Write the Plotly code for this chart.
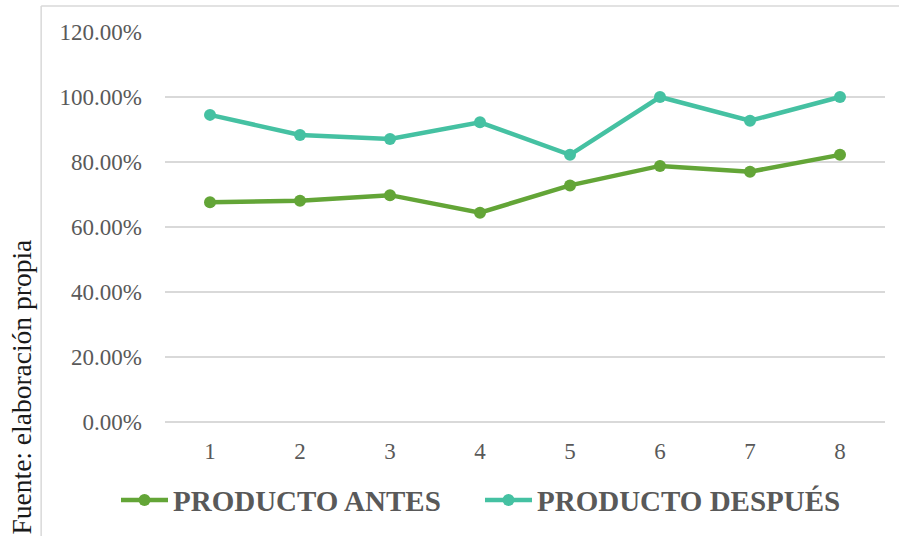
import plotly.graph_objects as go

categories = [1, 2, 3, 4, 5, 6, 7, 8]
antes = [0.676, 0.681, 0.698, 0.644, 0.728, 0.788, 0.770, 0.822]
despues = [0.945, 0.883, 0.871, 0.922, 0.822, 1.000, 0.927, 1.000]
y_ticks = [0, 0.2, 0.4, 0.6, 0.8, 1.0, 1.2]

SERIF = "'Liberation Serif', 'Times New Roman', Times, serif"
TXT = "#595959"
GRID = "#d9d9d9"

fig = go.Figure()
fig.add_trace(go.Scatter(
    x=categories, y=antes, name="PRODUCTO ANTES", mode="lines+markers",
    line=dict(color="#63a537", width=4.5),
    marker=dict(color="#63a537", size=12),
    legend="legend",
))
fig.add_trace(go.Scatter(
    x=categories, y=despues, name="PRODUCTO DESPUÉS", mode="lines+markers",
    line=dict(color="#45c1a2", width=4.5),
    marker=dict(color="#45c1a2", size=12),
    legend="legend2",
))

legend_common = dict(
    orientation="h", xref="container", yref="container",
    xanchor="left", y=0.067, yanchor="middle",
    font=dict(family=SERIF, size=29, color=TXT, weight="bold"),
    itemwidth=47, bgcolor="rgba(0,0,0,0)",
)

fig.update_layout(
    width=899, height=536,
    margin=dict(l=165, r=14, t=32, b=114, autoexpand=False),
    paper_bgcolor="white", plot_bgcolor="white",
    font=dict(family=SERIF, color=TXT, size=23),
    showlegend=True,
    legend=dict(legend_common, x=116 / 899),
    legend2=dict(legend_common, x=480 / 899),
    xaxis=dict(
        range=[0.5, 8.5], tickvals=categories, ticktext=[str(c) for c in categories],
        showgrid=False, zeroline=False, showline=False,
        ticklabelstandoff=13,
        tickfont=dict(family=SERIF, size=23, color=TXT),
    ),
    yaxis=dict(
        range=[0, 1.2], tickvals=y_ticks, tickformat=".2%",
        showgrid=True, gridcolor=GRID, gridwidth=1.5,
        zeroline=True, zerolinecolor=GRID, zerolinewidth=1.5,
        showline=False, ticklabelstandoff=22,
        tickfont=dict(family=SERIF, size=23, color=TXT),
    ),
    shapes=[
        dict(type="line", xref="paper", yref="paper", x0=-0.172, x1=1.03,
             y0=1.0667, y1=1.0667, line=dict(color=GRID, width=1.5)),
        dict(type="line", xref="paper", yref="paper", x0=-0.172, x1=-0.172,
             y0=1.0667, y1=-0.4, line=dict(color=GRID, width=1.5)),
    ],
    annotations=[
        dict(text="Fuente: elaboración propia", textangle=-90,
             xref="paper", yref="paper", x=(21 - 165) / 720, xanchor="center",
             y=(422 - 537) / 390, yanchor="bottom", showarrow=False,
             font=dict(family=SERIF, size=27.5, color="#1a1a1a")),
    ],
)

fig.write_html("out.html")
